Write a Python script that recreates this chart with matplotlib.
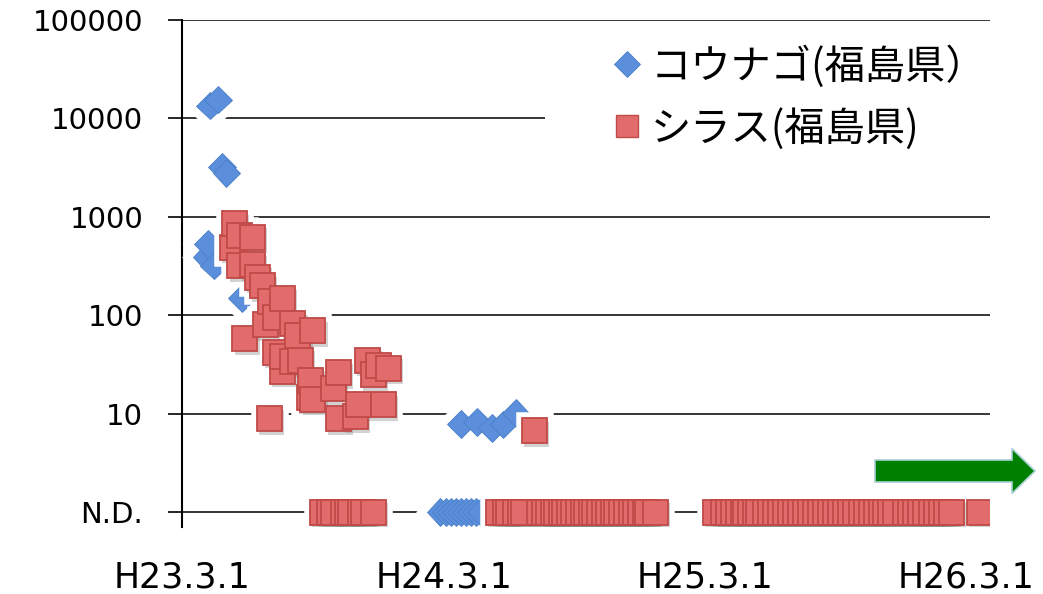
# -*- coding: utf-8 -*-
# コウナゴ・シラス(福島県) 放射性セシウム濃度の推移 (N.D. は一番下の段に表示)

import numpy as np
import pandas as pd
import matplotlib
matplotlib.use("Agg")
import matplotlib.pyplot as plt
import matplotlib.dates as mdates
import matplotlib.patheffects as pe
from matplotlib.lines import Line2D
from matplotlib.patches import FancyArrow, Rectangle
from matplotlib.ticker import NullLocator

plt.rcParams['font.family'] = ['DejaVu Sans']
jp_font = ['Noto Sans CJK JP', 'DejaVu Sans']

ND = 1.0  # N.D. を描く高さ

# コウナゴ(福島県)
kounago_dates = ['2011-04-04', '2011-04-06', '2011-04-09', '2011-04-15', '2011-04-20',
                 '2011-04-26', '2011-05-02', '2011-05-24', '2012-03-25', '2012-04-16',
                 '2012-05-07', '2012-05-23', '2012-06-09']
kounago_vals = [390, 530, 13500, 320, 15500, 3200, 2800, 150, 7.9, 8.3, 7.2, 7.8, 10.2]
kounago_nd_dates = ['2012-02-25', '2012-03-04', '2012-03-11', '2012-03-18', '2012-03-25',
                    '2012-04-01', '2012-04-08', '2012-04-15', '2012-04-22']

# シラス(福島県)
shirasu_dates = ['2011-05-10', '2011-05-13', '2011-05-21', '2011-05-21', '2011-05-28',
                 '2011-06-08', '2011-06-08', '2011-06-15', '2011-06-22', '2011-06-25',
                 '2011-07-01', '2011-07-02', '2011-07-09', '2011-07-10', '2011-07-19',
                 '2011-07-19', '2011-07-20', '2011-08-02', '2011-08-03', '2011-08-10',
                 '2011-08-13', '2011-08-26', '2011-08-27', '2011-08-31', '2011-08-31',
                 '2011-09-28', '2011-10-05', '2011-10-06', '2011-10-29', '2011-11-02',
                 '2011-11-15', '2011-11-23', '2011-11-30', '2011-12-08', '2011-12-14',
                 '2012-07-05']
shirasu_vals = [490, 850, 640, 320, 58,
                620, 325, 245, 200, 80,
                8.9, 138, 94, 42, 148,
                27, 38, 34, 82, 63,
                35, 14.5, 22, 70, 14,
                18, 26, 8.9, 9.3, 12.4,
                35, 25, 31, 12.4, 29,
                6.7]
shirasu_nd_dates = [
    '2011-09-13', '2011-09-23', '2011-09-28', '2011-10-12', '2011-10-18', '2011-10-22',
    '2011-11-05', '2011-11-09', '2011-11-23',
    '2012-05-16', '2012-05-26', '2012-05-30', '2012-06-09', '2012-06-16', '2012-06-20',
    '2012-07-13', '2012-07-20', '2012-07-25', '2012-08-01', '2012-08-05', '2012-08-12',
    '2012-08-17', '2012-08-24', '2012-08-29', '2012-09-05', '2012-09-12', '2012-09-16',
    '2012-09-23', '2012-09-28', '2012-10-05', '2012-10-12', '2012-10-17', '2012-10-24',
    '2012-10-28', '2012-11-04', '2012-11-11', '2012-11-18', '2012-11-23', '2012-11-30',
    '2012-12-07', '2012-12-11', '2012-12-21',
    '2013-03-15', '2013-03-26', '2013-04-02', '2013-04-09', '2013-04-16', '2013-04-23',
    '2013-04-27', '2013-05-03', '2013-05-10', '2013-05-14', '2013-05-24', '2013-05-31',
    '2013-06-07', '2013-06-14', '2013-06-21', '2013-06-28', '2013-07-05', '2013-07-12',
    '2013-07-19', '2013-07-26', '2013-08-02', '2013-08-09', '2013-08-16', '2013-08-23',
    '2013-08-30', '2013-09-06', '2013-09-13', '2013-09-20', '2013-09-27', '2013-10-05',
    '2013-10-12', '2013-10-19', '2013-10-26', '2013-11-02', '2013-11-08', '2013-11-15',
    '2013-11-22', '2013-12-06', '2013-12-13', '2013-12-20', '2013-12-27', '2014-01-03',
    '2014-01-11', '2014-01-18', '2014-01-25', '2014-02-01', '2014-02-08', '2014-03-19']

xtick_dates = ['2011-03-01', '2012-03-01', '2013-03-01', '2014-03-01']
xtick_labels = ['H23.3.1', 'H24.3.1', 'H25.3.1', 'H26.3.1']
ytick_vals = [ND, 10, 100, 1000, 10000, 100000]
ytick_labels = ['N.D.', '10', '100', '1000', '10000', '100000']


def build(dates, vals, nd_dates):
    # 検出値と N.D. をまとめて日付順に並べる (後の点が上に重なる)
    df = pd.DataFrame({'date': pd.to_datetime(list(dates) + list(nd_dates)),
                       'val': list(vals) + [ND] * len(nd_dates)})
    return df.sort_values('date', kind='stable')


kdf = build(kounago_dates, kounago_vals, kounago_nd_dates)
sdf = build(shirasu_dates, shirasu_vals, shirasu_nd_dates)

fig = plt.figure(figsize=(10.43, 5.94), dpi=100)
ax = fig.add_axes([182 / 1043, 67 / 594, 808 / 1043, 507 / 594])
ax.set_yscale('log')
ax.set_ylim(10 ** -0.15, 1e5)
ax.set_xlim(pd.Timestamp('2011-03-01'), pd.Timestamp('2014-04-03'))

# 罫線
ax.set_axisbelow(True)
ax.set_yticks(ytick_vals)
ax.set_yticklabels(ytick_labels)
ax.yaxis.set_minor_locator(NullLocator())
ax.yaxis.grid(True, color='black', lw=1.1)
ax.set_xticks(mdates.date2num(pd.to_datetime(xtick_dates)))
ax.set_xticklabels(xtick_labels)
ax.xaxis.set_minor_locator(NullLocator())

for s in ['top', 'right', 'bottom']:
    ax.spines[s].set_visible(False)
ax.spines['left'].set_linewidth(1.5)
ax.tick_params(axis='y', direction='out', length=10, width=1.2, pad=18, labelsize=21)
ax.tick_params(axis='x', length=0, pad=24, labelsize=25)

# 凡例の白地 (10000 の罫線を隠す)
ax.add_patch(Rectangle((0.449, 0.744), 0.551, 0.236, transform=ax.transAxes,
                       facecolor='white', edgecolor='none', zorder=1))

ax.plot(kdf['date'], kdf['val'], ls='none', marker='D', ms=14,
        mfc='#5b8fdb', mec='#4a7fc9', mew=0.6, zorder=3,
        path_effects=[pe.Stroke(linewidth=12, foreground='white'), pe.Normal()])
ax.plot(sdf['date'], sdf['val'], ls='none', marker='s', ms=18,
        mfc='#e26b6b', mec='#bf4a48', mew=1.3, zorder=4,
        path_effects=[pe.Stroke(linewidth=9, foreground='white'),
                      pe.SimplePatchShadow(offset=(1.5, -2.5), shadow_rgbFace='gray', alpha=0.35),
                      pe.Normal()])

h1 = Line2D([], [], ls='none', marker='D', ms=13, mfc='#5b8fdb', mec='#4a7fc9', mew=0.6)
h2 = Line2D([], [], ls='none', marker='s', ms=16, mfc='#e26b6b', mec='#bf4a48', mew=1.0)
ax.legend([h1, h2], ['コウナゴ(福島県）', 'シラス(福島県)'],
          loc='upper left', bbox_to_anchor=(614 / 1043, 1 - 45 / 594),
          bbox_transform=fig.transFigure, frameon=False, borderpad=0, borderaxespad=0,
          handlelength=0.65, handletextpad=0.25, labelspacing=0.5,
          prop={'family': jp_font, 'size': 29})

# 右向きの緑矢印
arrow = FancyArrow(875 / 1043, 1 - 471 / 594, (1035 - 875) / 1043, 0,
                   width=22 / 594, head_width=45 / 594, head_length=23 / 1043,
                   length_includes_head=True, transform=fig.transFigure,
                   facecolor='#008000', edgecolor='#a9cfd6', lw=1.2, clip_on=False)
fig.add_artist(arrow)

fig.savefig('out.png', dpi=100)
